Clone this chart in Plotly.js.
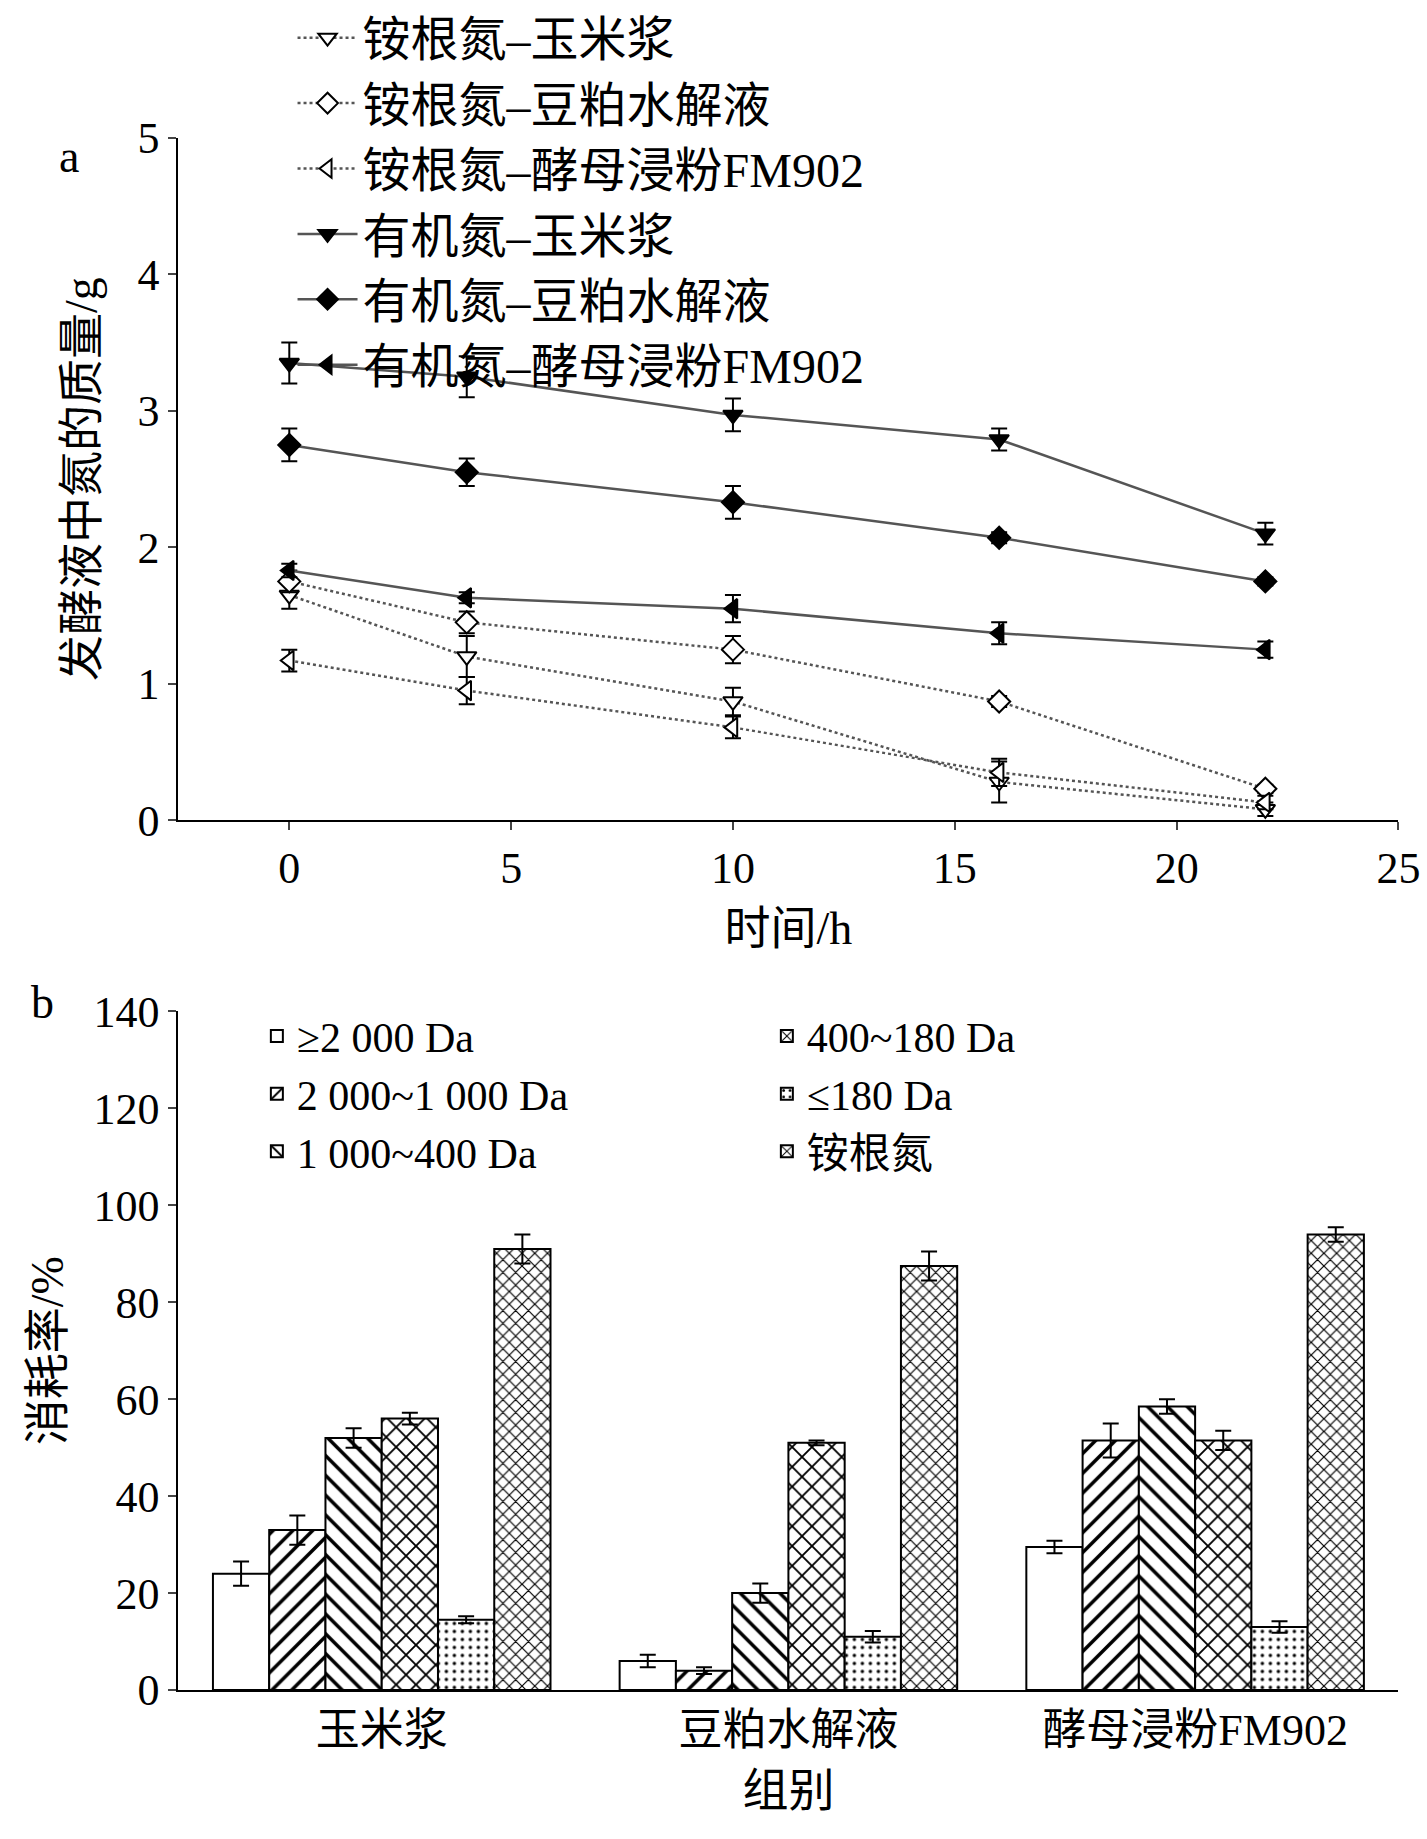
<!DOCTYPE html>
<html><head><meta charset="utf-8">
<script src="https://cdn.plot.ly/plotly-3.0.1.min.js"></script>
<style>body{margin:0}#chart{width:1427px;height:1839px}</style>
</head><body><div id="chart"></div>
<script>
var hours = [0, 4, 10, 16, 22];
var orgCorn = [3.35, 3.25, 2.97, 2.79, 2.1],  orgCornErr = [0.15, 0.15, 0.12, 0.08, 0.08];
var orgSoy  = [2.75, 2.55, 2.33, 2.07, 1.75], orgSoyErr  = [0.12, 0.1, 0.12, 0.04, 0.03];
var orgYeast= [1.83, 1.63, 1.55, 1.37, 1.25], orgYeastErr= [0.05, 0.04, 0.1, 0.08, 0.06];
var nhCorn  = [1.65, 1.2, 0.87, 0.28, 0.08],  nhCornErr  = [0.1, 0.15, 0.1, 0.15, 0.05];
var nhSoy   = [1.75, 1.45, 1.25, 0.87, 0.23], nhSoyErr   = [0.08, 0.08, 0.1, 0.04, 0.03];
var nhYeast = [1.17, 0.95, 0.68, 0.35, 0.13], nhYeastErr = [0.08, 0.1, 0.08, 0.1, 0.05];

var groups = ['玉米浆', '豆粕水解液', '酵母浸粉FM902'];
var sizeNames = ['≥2 000 Da', '2 000~1 000 Da', '1 000~400 Da', '400~180 Da', '≤180 Da', '铵根氮'];
var sizeVals = [[24, 6, 29.5], [33, 4, 51.5], [52, 20, 58.5], [56, 51, 51.5], [14.5, 11, 13], [91, 87.5, 94]];
var sizeErrs = [[2.5, 1.3, 1.3], [3, 0.7, 3.5], [2, 2, 1.5], [1.2, 0.5, 2], [0.7, 1.2, 1.2], [3, 3, 1.5]];

var F = 'Liberation Serif, Noto Sans CJK SC, serif';
var traces = [];
function line(name, y, err, sym, dash) {
  traces.push({x: hours, y: y, name: name, type: 'scatter', mode: 'lines+markers',
    line: {color: '#555', width: 2.5, dash: dash},
    marker: {symbol: sym, size: 17, color: dash === 'solid' ? 'black' : 'white', line: {color: 'black', width: 2}},
    error_y: {type: 'data', array: err, color: 'black', thickness: 2, width: 8},
    xaxis: 'x', yaxis: 'y', legend: 'legend'});
}
line('铵根氮–玉米浆', nhCorn, nhCornErr, 'triangle-down', 'dot');
line('铵根氮–豆粕水解液', nhSoy, nhSoyErr, 'diamond', 'dot');
line('铵根氮–酵母浸粉FM902', nhYeast, nhYeastErr, 'triangle-left', 'dot');
line('有机氮–玉米浆', orgCorn, orgCornErr, 'triangle-down', 'solid');
line('有机氮–豆粕水解液', orgSoy, orgSoyErr, 'diamond', 'solid');
line('有机氮–酵母浸粉FM902', orgYeast, orgYeastErr, 'triangle-left', 'solid');

var shapes = ['', '/', '\\', 'x', '.', 'x'];
var sizesP = [8, 14, 14, 14, 8, 9];
var ranks = [1, 3, 5, 2, 4, 6];
for (var i = 0; i < sizeNames.length; i++) {
  traces.push({x: groups, y: sizeVals[i], name: sizeNames[i], type: 'bar',
    marker: {color: 'white', line: {color: 'black', width: 2},
      pattern: {shape: shapes[i], fgcolor: 'black', bgcolor: 'white', size: sizesP[i], solidity: i === 4 ? 0.15 : 0.25}},
    error_y: {type: 'data', array: sizeErrs[i], color: 'black', thickness: 2, width: 8},
    xaxis: 'x2', yaxis: 'y2', legend: 'legend2', legendrank: ranks[i]});
}

var ax = {showline: true, linecolor: 'black', linewidth: 2, ticks: 'outside', ticklen: 8, tickwidth: 2,
  showgrid: false, zeroline: false, tickfont: {size: 44, family: F, color: 'black'}};
var layout = {
  width: 1427, height: 1839, paper_bgcolor: 'white', plot_bgcolor: 'white',
  margin: {l: 0, r: 0, t: 0, b: 0}, font: {family: F, color: 'black'},
  bargap: 0.17, bargroupgap: 0,
  xaxis: Object.assign({}, ax, {domain: [0.125, 0.98], range: [-2.5, 25], dtick: 5, anchor: 'y',
    title: {text: '时间/h', font: {size: 46}, standoff: 20}}),
  yaxis: Object.assign({}, ax, {domain: [0.554, 0.925], range: [0, 5], dtick: 1, anchor: 'x',
    title: {text: '发酵液中氮的质量/g', font: {size: 46}, standoff: 25}}),
  xaxis2: Object.assign({}, ax, {domain: [0.125, 0.98], anchor: 'y2', ticks: '',
    title: {text: '组别', font: {size: 46}, standoff: 20}}),
  yaxis2: Object.assign({}, ax, {domain: [0.081, 0.45], range: [0, 140], dtick: 20, anchor: 'x2',
    title: {text: '消耗率/%', font: {size: 46}, standoff: 15}}),
  legend: {x: 0.205, y: 1.0, xanchor: 'left', yanchor: 'top', font: {size: 48}, tracegroupgap: 0,
    bgcolor: 'rgba(0,0,0,0)', itemwidth: 60},
  legend2: {x: 0.18, y: 0.455, xanchor: 'left', yanchor: 'top', orientation: 'h', font: {size: 42},
    entrywidth: 465, entrywidthmode: 'pixels', bgcolor: 'rgba(0,0,0,0)', traceorder: 'normal'},
  annotations: [
    {text: 'a', x: 0.04, y: 0.93, xref: 'paper', yref: 'paper', showarrow: false, font: {size: 46}},
    {text: 'b', x: 0.02, y: 0.455, xref: 'paper', yref: 'paper', showarrow: false, font: {size: 46}}
  ]
};
Plotly.newPlot('chart', traces, layout, {displayModeBar: false});
</script></body></html>
